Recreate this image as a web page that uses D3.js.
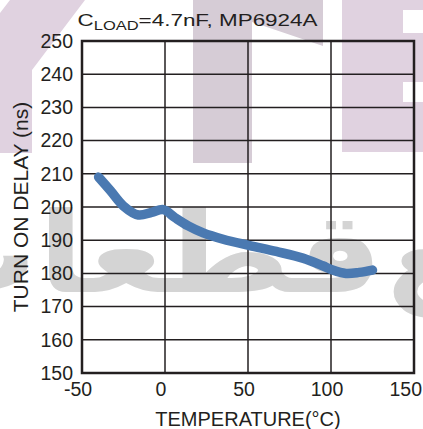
<!DOCTYPE html>
<html>
<head>
<meta charset="utf-8">
<script src="https://cdn.jsdelivr.net/npm/d3@7"></script>
<style>
    body { margin: 0; background: #fff; }
    text { font-family: "Liberation Sans", Arial, sans-serif; fill: #231f20; }
</style>
</head>
<body>
<div id="chart-area"></div>
<script>

// Data
var temperature = [-40, -33, -25, -16, -8, -1, 6, 14, 23, 35, 51, 67, 83, 95, 101, 109, 117, 125];
var turnOnDelay = [209, 205, 200.3, 197.6, 198.4, 199.2, 196.8, 194.3, 192.2, 190.3, 188.4, 186.6, 184.6, 182.3, 181.0, 180.0, 180.3, 181.0];

var xTicks = [-50, 0, 50, 100, 150];
var yTicks = [150, 160, 170, 180, 190, 200, 210, 220, 230, 240, 250];

var margin = { left: 82, right: 9, top: 41, bottom: 56 },
    width = 423 - margin.left - margin.right,
    height = 429 - margin.top - margin.bottom;

var svg = d3.select("#chart-area").append("svg")
    .attr("width", 423)
    .attr("height", 429);

// Watermark in the background
var wm = svg.append("g").attr("class", "watermark");

wm.append("path")
    .attr("d", "M10,0 L85,0 L32,70 L32,153 L0,153 L0,13 Z")
    .attr("fill", "#e0d2e0");

wm.append("path")
    .attr("d", "M193,0 L323,0 L323,46 L252,22 L252,163 L193,163 Z")
    .attr("fill", "#d6ccd6");

wm.append("path")
    .attr("d", "M342,0 L423,0 L423,10 L403,10 L403,33 L423,33 L423,82 L403,82 L403,102 L423,102 L423,152 L342,152 Z")
    .attr("fill", "#e0d2e0");

wm.append("text")
    .attr("transform", "translate(383,292) scale(1.2,1)")
    .attr("text-anchor", "start")
    .attr("direction", "rtl")
    .style("font-family", "DejaVu Sans")
    .style("font-weight", "bold")
    .style("font-size", "112px")
    .style("fill", "#d4d4d4")
    .text("قطعات");

wm.append("text")
    .attr("transform", "translate(386,292) scale(1.2,1)")
    .attr("text-anchor", "end")
    .attr("direction", "rtl")
    .style("font-family", "DejaVu Sans")
    .style("font-weight", "bold")
    .style("font-size", "112px")
    .style("fill", "#d4d4d4")
    .text("مرجع");

var g = svg.append("g")
    .attr("transform", "translate(" + margin.left + ", " + margin.top + ")");

// Scales
var x = d3.scaleLinear().domain([-50, 150]).range([0, width]);
var y = d3.scaleLinear().domain([150, 250]).range([height, 0]);

// Grid
g.selectAll(".x-grid").data(xTicks).enter().append("line")
    .attr("class", "x-grid")
    .attr("x1", function(d){ return x(d); })
    .attr("x2", function(d){ return x(d); })
    .attr("y1", 0)
    .attr("y2", height)
    .attr("stroke", "#231f20")
    .attr("stroke-width", 1.5);

g.selectAll(".y-grid").data(yTicks).enter().append("line")
    .attr("class", "y-grid")
    .attr("x1", 0)
    .attr("x2", width)
    .attr("y1", function(d){ return y(d); })
    .attr("y2", function(d){ return y(d); })
    .attr("stroke", "#231f20")
    .attr("stroke-width", 1.5);

// Frame
g.append("rect")
    .attr("width", width)
    .attr("height", height)
    .attr("fill", "none")
    .attr("stroke", "#231f20")
    .attr("stroke-width", 2.5);

// Tick labels
g.selectAll(".y-label").data(yTicks).enter().append("text")
    .attr("class", "y-label")
    .attr("x", -9)
    .attr("y", function(d){ return y(d); })
    .attr("dy", "0.35em")
    .attr("text-anchor", "end")
    .attr("font-size", "19.5px")
    .text(function(d){ return d; });

g.selectAll(".x-label").data(xTicks).enter().append("text")
    .attr("class", "x-label")
    .attr("x", function(d){ return x(d) - 4; })
    .attr("y", height + 23)
    .attr("text-anchor", "middle")
    .attr("font-size", "19.5px")
    .text(function(d){ return d; });

// keep the last label inside the window
g.selectAll(".x-label").each(function(){
    var w = this.getComputedTextLength();
    var cx = +d3.select(this).attr("x");
    if (margin.left + cx + w / 2 > 422) d3.select(this).attr("x", 422 - margin.left - w / 2);
});

// Curve
var line = d3.line()
    .x(function(d, i){ return x(temperature[i]); })
    .y(function(d){ return y(d); })
    .curve(d3.curveCatmullRom);

g.append("path")
    .attr("class", "line")
    .attr("d", line(turnOnDelay))
    .attr("fill", "none")
    .attr("stroke", "#4a79b1")
    .attr("stroke-width", 9.5)
    .attr("stroke-linecap", "round")
    .attr("stroke-linejoin", "round");

// Axis titles
svg.append("text")
    .attr("x", margin.left + width / 2)
    .attr("y", 426)
    .attr("text-anchor", "middle")
    .attr("font-size", "20px")
    .text("TEMPERATURE(°C)");

svg.append("text")
    .attr("transform", "translate(28," + (margin.top + height / 2) + ") rotate(-90)")
    .attr("text-anchor", "middle")
    .attr("font-size", "21px")
    .text("TURN ON DELAY (ns)");

// Title
var title = svg.append("text")
    .attr("transform", "translate(197.5,26) scale(1.32,1)")
    .attr("text-anchor", "middle")
    .attr("font-size", "17px");
title.append("tspan").text("C");
title.append("tspan").attr("dy", 4).attr("font-size", "12.5px").text("LOAD");
title.append("tspan").attr("dy", -4).text("=4.7nF, MP6924A");

</script>
</body>
</html>
